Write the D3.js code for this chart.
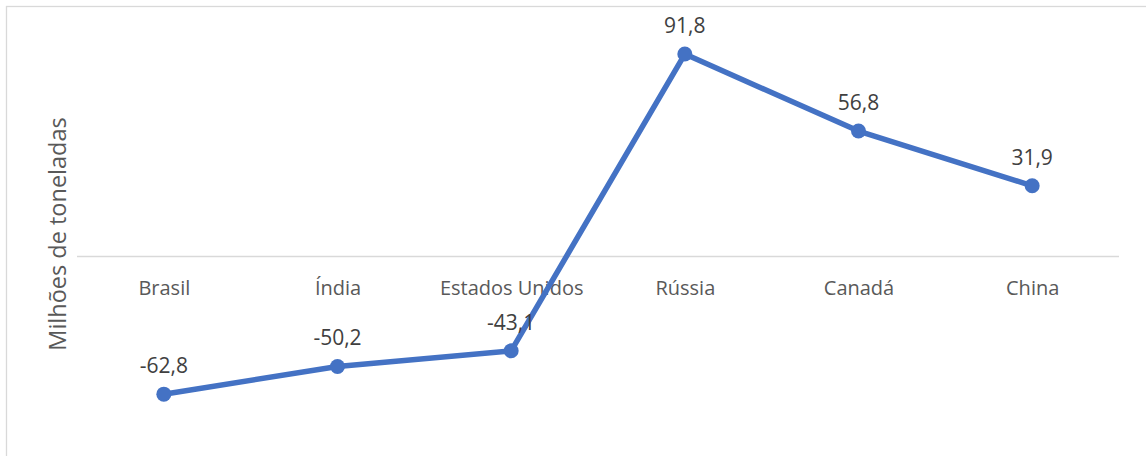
<!DOCTYPE html>
<html>
<head>
<meta charset="utf-8">
<script src="https://cdn.jsdelivr.net/npm/d3@7/dist/d3.min.js"></script>
<style>
  html, body { margin: 0; padding: 0; background: #fff; }
  svg { display: block; }
</style>
</head>
<body>
<svg id="chart" width="1146" height="456"></svg>
<script>
// Net balance by country, in millions of tonnes
const categories = ["Brasil", "Índia", "Estados Unidos", "Rússia", "Canadá", "China"];
const values = [-62.8, -50.2, -43.1, 91.8, 56.8, 31.9];
const yAxisTitle = "Milhões de toneladas";

const W = 1146, H = 456;
const svg = d3.select("#chart");
const font = "'Open Sans', sans-serif";

// chart area frame
svg.append("rect")
  .attr("x", 6.5).attr("y", 6.5)
  .attr("width", W + 20).attr("height", H + 20)
  .attr("fill", "#fff")
  .attr("stroke", "#d9d9d9")
  .attr("stroke-width", 1.3);

const plot = { left: 77, right: 1119, top: 36, bottom: 432 };

const x = d3.scalePoint()
  .domain(categories)
  .range([plot.left, plot.right])
  .padding(0.5);

const y = d3.scaleLinear()
  .domain([-80, 100])
  .range([plot.bottom, plot.top]);

// zero baseline with category labels beneath
const xAxis = d3.axisBottom(x).tickSize(0).tickPadding(0);
const gx = svg.append("g")
  .attr("transform", `translate(0,${y(0)})`)
  .call(xAxis);
gx.select(".domain")
  .attr("d", `M${plot.left},0.5H${plot.right}`)
  .attr("stroke", "#d9d9d9")
  .attr("stroke-width", 1.5);
gx.selectAll(".tick text")
  .attr("y", 39)
  .attr("dy", 0)
  .attr("fill", "#595959")
  .style("font-family", font)
  .style("font-size", "20px");

// vertical axis title
svg.append("text")
  .attr("transform", `translate(66,${(plot.top + plot.bottom) / 2}) rotate(-90)`)
  .attr("text-anchor", "middle")
  .attr("fill", "#595959")
  .style("font-family", font)
  .style("font-size", "23.5px")
  .text(yAxisTitle);

const data = categories.map((c, i) => ({ c, v: values[i] }));

// series line
svg.append("path")
  .datum(data)
  .attr("fill", "none")
  .attr("stroke", "#4472C4")
  .attr("stroke-width", 5.5)
  .attr("stroke-linejoin", "round")
  .attr("d", d3.line().x(d => x(d.c)).y(d => y(d.v)));

// markers
svg.append("g").selectAll("circle")
  .data(data)
  .join("circle")
  .attr("cx", d => x(d.c))
  .attr("cy", d => y(d.v))
  .attr("r", 7.5)
  .attr("fill", "#4472C4");

// value labels above each point
const fmt = v => d3.format(".1f")(v).replace(".", ",").replace("−", "-");
svg.append("g").selectAll("text")
  .data(data)
  .join("text")
  .attr("x", d => x(d.c))
  .attr("y", d => y(d.v) - 21)
  .attr("text-anchor", "middle")
  .attr("fill", "#404040")
  .style("font-family", font)
  .style("font-size", "21px")
  .text(d => fmt(d.v));
</script>
</body>
</html>
